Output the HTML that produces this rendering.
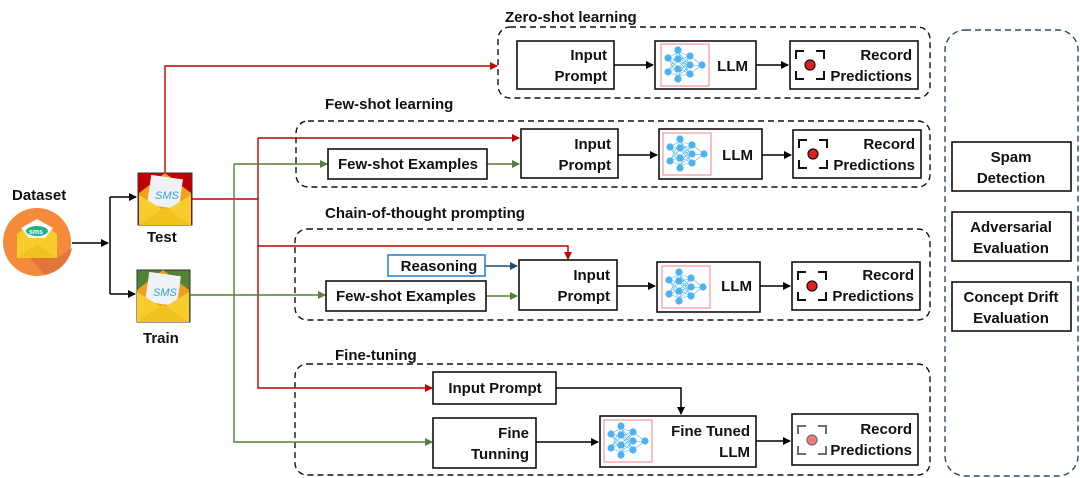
<!DOCTYPE html>
<html><head><meta charset="utf-8"><style>
html,body{margin:0;padding:0;background:#fff;}
svg{display:block;}
text{font-family:"Liberation Sans",sans-serif;font-weight:bold;fill:#111;}
</style></head><body>
<svg width="1080" height="478" viewBox="0 0 1080 478" xmlns="http://www.w3.org/2000/svg">
<defs>
<marker id="ak" markerWidth="8" markerHeight="8" refX="7" refY="4" orient="auto" markerUnits="userSpaceOnUse"><path d="M0,0 L8,4 L0,8 z" fill="#000"/></marker>
<marker id="ar" markerWidth="8" markerHeight="8" refX="7" refY="4" orient="auto" markerUnits="userSpaceOnUse"><path d="M0,0 L8,4 L0,8 z" fill="#c00000"/></marker>
<marker id="ag" markerWidth="8" markerHeight="8" refX="7" refY="4" orient="auto" markerUnits="userSpaceOnUse"><path d="M0,0 L8,4 L0,8 z" fill="#538135"/></marker>
<marker id="ab" markerWidth="8" markerHeight="8" refX="7" refY="4" orient="auto" markerUnits="userSpaceOnUse"><path d="M0,0 L8,4 L0,8 z" fill="#1f4e79"/></marker>
<g id="nn">
<rect x="0" y="0" width="48" height="42" fill="#fff" stroke="#f08080" stroke-width="1"/>
<g stroke="#4db3f0" stroke-width="0.6">
<path d="M7,14 L17,8 M7,14 L17,16 M7,14 L17,24 M7,14 L17,32 M7,28 L17,8 M7,28 L17,16 M7,28 L17,24 M7,28 L17,32 M17,8 L29,12 M17,16 L29,12 M17,24 L29,12 M17,32 L29,12 M17,8 L29,22 M17,16 L29,22 M17,24 L29,22 M17,32 L29,22 M17,8 L29,30 M17,16 L29,30 M17,24 L29,30 M17,32 L29,30 M29,12 L41,21 M29,22 L41,21 M29,30 L41,21"/>
</g>
<g fill="#4db3f0"><circle cx="7" cy="14" r="3.6"/><circle cx="7" cy="28" r="3.6"/><circle cx="17" cy="6" r="3.6"/><circle cx="17" cy="15" r="3.6"/><circle cx="17" cy="25" r="3.6"/><circle cx="17" cy="35" r="3.6"/><circle cx="29" cy="12" r="3.6"/><circle cx="29" cy="21" r="3.6"/><circle cx="29" cy="30" r="3.6"/><circle cx="41" cy="21" r="3.6"/></g>
</g>
<g id="rec">
<path d="M0,8 V0 H8 M20,0 H28 V8 M0,20 V28 H8 M20,28 H28 V20" fill="none" stroke="#111" stroke-width="2"/>
<circle cx="14" cy="14" r="5" fill="#e02020" stroke="#111" stroke-width="1.2"/>
</g>
<g id="env">
<path d="M0,20 L26,0 L52,20 L52,52 L0,52 z" fill="#f0a020"/>
<rect x="10" y="4" width="32" height="30" fill="#eef2f5" transform="rotate(8 26 19)"/>
<text x="16" y="26" font-size="11" style="fill:#3aa0e0;font-style:italic;font-weight:normal">SMS</text>
<path d="M0,22 L26,38 L52,22 L52,52 L0,52 z" fill="#f7cd2e"/>
<path d="M0,52 L26,34 L52,52 z" fill="#f2c21c"/>
</g>
</defs>

<text x="505" y="22" font-size="15">Zero-shot learning</text>
<text x="325" y="109" font-size="15">Few-shot learning</text>
<text x="325" y="218" font-size="15">Chain-of-thought prompting</text>
<text x="335" y="360" font-size="15">Fine-tuning</text>

<g fill="none" stroke="#111" stroke-width="1.4" stroke-dasharray="6,4">
<rect x="498" y="27" width="432" height="71" rx="12"/>
<rect x="296" y="121" width="634" height="66" rx="12"/>
<rect x="295" y="229" width="635" height="91" rx="12"/>
<rect x="295" y="364" width="635" height="111" rx="12"/>
</g>
<rect x="945" y="30" width="133" height="446" rx="20" fill="none" stroke="#2e4a66" stroke-width="1.4" stroke-dasharray="6,4"/>

<text x="12" y="200" font-size="15">Dataset</text>
<circle cx="37" cy="242" r="34" fill="#f58a3a"/>
<path d="M57,258 L72,248 A34,34 0 0 1 45,275 L30,258 z" fill="#e0763a"/>
<path d="M17,234 L37,220 L57,234 L57,258 L17,258 z" fill="#f7cd2e"/>
<path d="M21,228 L37,219 L53,228 L45,238 L29,238 z" fill="#fff"/>
<ellipse cx="37" cy="231" rx="11" ry="5" fill="#1fb57f"/>
<text x="29" y="234" font-size="7" style="fill:#fff">sms</text>
<path d="M17,258 L37,244 L57,258 z" fill="#f2c21c"/>

<rect x="138" y="173" width="54" height="52" fill="#c00000" stroke="#333"/>
<use href="#env" x="139" y="173"/>
<text x="147" y="242" font-size="15">Test</text>
<rect x="137" y="270" width="53" height="52" fill="#548235" stroke="#333"/>
<use href="#env" x="137" y="270"/>
<text x="143" y="343" font-size="15">Train</text>

<g fill="none" stroke="#000" stroke-width="1.5">
<path d="M72,243 H108" marker-end="url(#ak)"/>
<path d="M110,197 V294"/>
<path d="M110,197 H136" marker-end="url(#ak)"/>
<path d="M110,294 H135" marker-end="url(#ak)"/>
</g>

<g fill="none" stroke="#c00000" stroke-width="1.4">
<path d="M165,173 V66 H497" marker-end="url(#ar)"/>
<path d="M192,199 H258"/>
<path d="M258,138 V388 H432" marker-end="url(#ar)"/>
<path d="M258,138 H519" marker-end="url(#ar)"/>
<path d="M258,246 H568 V259" marker-end="url(#ar)"/>
</g>
<g fill="none" stroke="#538135" stroke-width="1.4">
<path d="M190,295 H325" marker-end="url(#ag)"/>
<path d="M234,164 V442 H432" marker-end="url(#ag)"/>
<path d="M234,164 H327" marker-end="url(#ag)"/>
<path d="M487,164 H519" marker-end="url(#ag)"/>
<path d="M486,296 H517" marker-end="url(#ag)"/>
</g>
<path d="M485,266 H517" stroke="#1f4e79" stroke-width="1.4" fill="none" marker-end="url(#ab)"/>

<g fill="#fff" stroke="#111" stroke-width="1.6">
<rect x="517" y="41" width="97" height="48"/>
<rect x="655" y="41" width="101" height="48"/>
<rect x="790" y="41" width="128" height="48"/>
<rect x="328" y="149" width="159" height="30"/>
<rect x="521" y="129" width="97" height="49"/>
<rect x="659" y="129" width="103" height="50"/>
<rect x="793" y="130" width="128" height="48"/>
<rect x="326" y="281" width="160" height="30"/>
<rect x="519" y="260" width="98" height="50"/>
<rect x="657" y="262" width="103" height="50"/>
<rect x="792" y="262" width="128" height="48"/>
<rect x="433" y="372" width="123" height="32"/>
<rect x="433" y="418" width="103" height="50"/>
<rect x="600" y="416" width="156" height="51"/>
<rect x="792" y="414" width="126" height="51"/>
<rect x="952" y="142" width="119" height="49"/>
<rect x="952" y="212" width="119" height="49"/>
<rect x="952" y="282" width="119" height="49"/>
</g>
<rect x="388" y="255" width="97" height="21" fill="#fff" stroke="#2e86d0" stroke-width="1.6"/>

<g fill="none" stroke="#000" stroke-width="1.5">
<path d="M614,65 H653" marker-end="url(#ak)"/>
<path d="M756,65 H788" marker-end="url(#ak)"/>
<path d="M618,155 H657" marker-end="url(#ak)"/>
<path d="M762,155 H791" marker-end="url(#ak)"/>
<path d="M617,286 H655" marker-end="url(#ak)"/>
<path d="M760,286 H790" marker-end="url(#ak)"/>
<path d="M556,388 H681 V414" marker-end="url(#ak)"/>
<path d="M536,442 H598" marker-end="url(#ak)"/>
<path d="M756,441 H790" marker-end="url(#ak)"/>
</g>

<use href="#nn" x="661" y="44"/>
<use href="#nn" x="663" y="133"/>
<use href="#nn" x="662" y="266"/>
<use href="#nn" x="604" y="420"/>
<use href="#rec" x="796" y="51"/>
<use href="#rec" x="799" y="140"/>
<use href="#rec" x="798" y="272"/>
<use href="#rec" x="798" y="426" opacity="0.6"/>

<g font-size="15" text-anchor="end">
<text x="607" y="60">Input</text><text x="607" y="81">Prompt</text>
<text x="748" y="71">LLM</text>
<text x="912" y="60">Record</text><text x="912" y="81">Predictions</text>
<text x="611" y="149">Input</text><text x="611" y="170">Prompt</text>
<text x="753" y="160">LLM</text>
<text x="915" y="149">Record</text><text x="915" y="170">Predictions</text>
<text x="610" y="280">Input</text><text x="610" y="301">Prompt</text>
<text x="752" y="291">LLM</text>
<text x="914" y="280">Record</text><text x="914" y="301">Predictions</text>
<text x="529" y="438">Fine</text><text x="529" y="459">Tunning</text>
<text x="750" y="436">Fine Tuned</text><text x="750" y="457">LLM</text>
<text x="912" y="434">Record</text><text x="912" y="455">Predictions</text>
</g>
<g font-size="15" text-anchor="middle">
<text x="408" y="169">Few-shot Examples</text>
<text x="406" y="301">Few-shot Examples</text>
<text x="439" y="271">Reasoning</text>
<text x="495" y="393">Input Prompt</text>
<text x="1011" y="162">Spam</text><text x="1011" y="183">Detection</text>
<text x="1011" y="232">Adversarial</text><text x="1011" y="253">Evaluation</text>
<text x="1011" y="302">Concept Drift</text><text x="1011" y="323">Evaluation</text>
</g>
</svg>
</body></html>
